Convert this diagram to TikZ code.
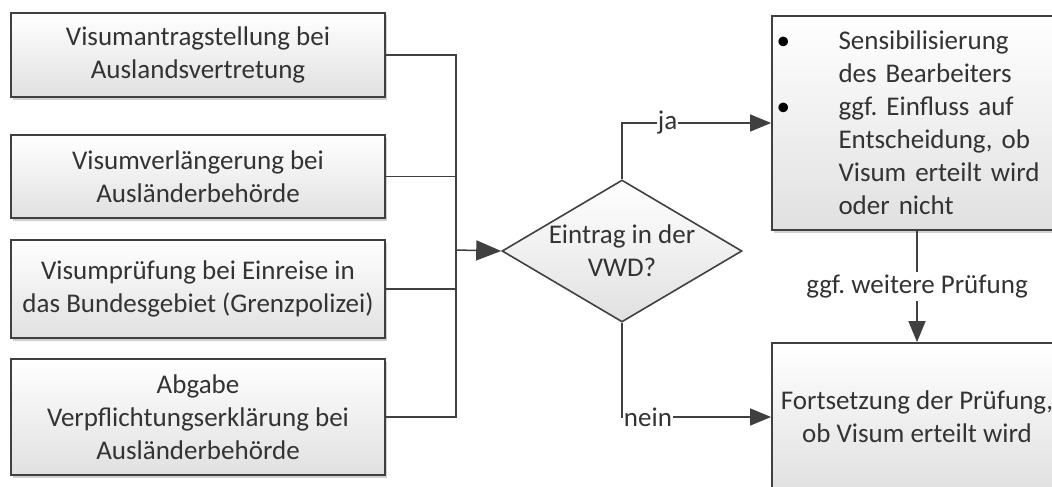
\documentclass[tikz,border=0pt]{standalone}
\usepackage{fontspec}
\setmainfont{Carlito}
\usetikzlibrary{arrows.meta,shapes.geometric,shadows}
\definecolor{edge}{HTML}{404040}
\definecolor{txt}{HTML}{333333}
\newcommand\bul{\makebox[62pt][l]{\textcolor{black}{\textbullet}}}
\newcommand\ind{\hspace*{62pt}}
\frenchspacing
\tikzset{
  box/.style={draw=edge, line width=1.8pt, top color=white, bottom color=black!12,
    text=txt, align=center, inner sep=0pt,
    drop shadow={shadow xshift=1.5pt, shadow yshift=-2.5pt, opacity=0.18, fill=black}},
  dia/.style={diamond, draw=edge, line width=1.6pt, top color=white, bottom color=black!12,
    inner sep=0pt},
  conn/.style={draw=edge, line width=1.5pt},
  arr/.style={conn, -{Triangle[length=21pt,width=17pt]}},
  bigarr/.style={conn, -{Triangle[length=25pt,width=20pt]}},
  lab/.style={fill=white, text=txt, inner xsep=1pt, inner ysep=2pt}
}
\begin{document}
\frenchspacing
\begin{tikzpicture}[x=1pt,y=-1pt, font=\fontsize{27}{33}\selectfont]
\useasboundingbox (0,0) rectangle (1052,487);
\clip (0,0) rectangle (1052,487);
\fill[white] (0,0) rectangle (1052,487);

\node[box, minimum width=374pt, minimum height=84pt] (a1) at (198,55) {Visumantragstellung bei\\Auslandsvertretung};
\node[box, minimum width=374pt, minimum height=83pt] (a2) at (198,176.5) {Visumverlängerung bei\\Ausländerbehörde};
\node[box, minimum width=374pt, minimum height=98pt] (a3) at (198,289) {Visumprüfung bei Einreise in\\das Bundesgebiet (Grenzpolizei)};
\node[box, minimum width=374pt, minimum height=116pt] (a4) at (198,417) {Abgabe\\Verpflichtungserklärung bei\\Ausländerbehörde};

\node[dia, minimum width=240pt, minimum height=142pt] (dec) at (622,251) {};
\node[text=txt, align=center, inner sep=0pt] (dect) at (dec.center) {Eintrag in der\\VWD?};

\node[box, minimum width=290pt, minimum height=214pt, text width=281pt, align=left, inner xsep=4.5pt] (yes) at (917,123)
  {\bul Sensibilisierung\\\ind des Bearbeiters\\\bul ggf. Einfluss auf\\\ind Entscheidung, ob\\\ind Visum erteilt wird\\\ind oder nicht};
\node[box, minimum width=290pt, minimum height=148pt] (no) at (917,417) {Fortsetzung der Prüfung,\\ob Visum erteilt wird};

\coordinate (j) at (456,250);
\draw[conn] (a1.east) -- (a1.east -| j) -- (a4.east -| j) -- (a4.east);
\draw[conn] (a2.east) -- (a2.east -| j);
\draw[conn] (a3.east) -- (a3.east -| j);
\draw[bigarr] (j) -- (dec.west);

\draw[arr] (dec.north) |- node[lab, pos=0.653] {ja} (yes.west);
\draw[arr] (dec.south) |- node[lab, pos=0.587] {nein} (no.west);
\draw[arr] (yes.south) -- node[lab, inner ysep=3pt] {ggf. weitere Prüfung} (no.north);
\end{tikzpicture}
\end{document}
